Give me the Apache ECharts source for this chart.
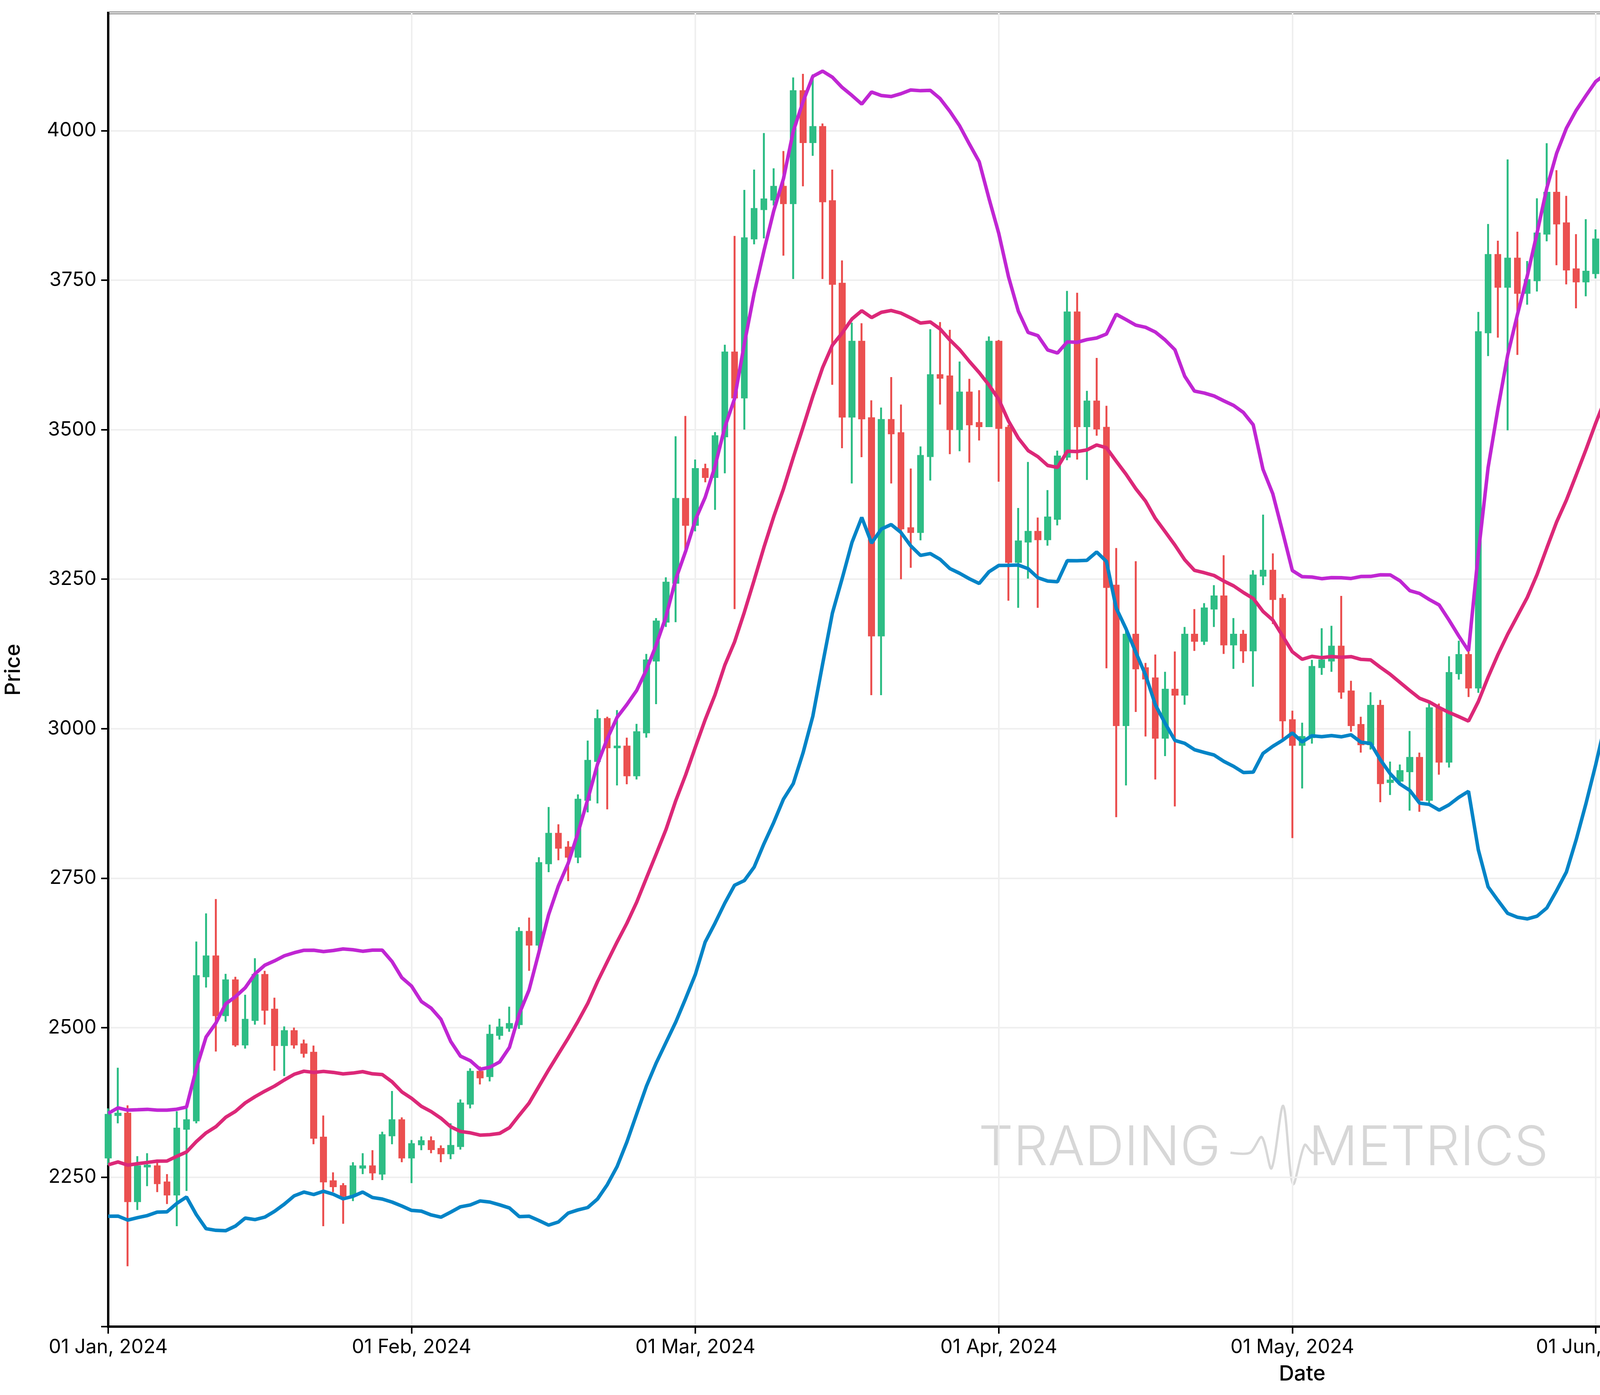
<!DOCTYPE html>
<html>
<head>
<meta charset="utf-8">
<script src="https://cdn.jsdelivr.net/npm/echarts@6/dist/echarts.min.js"></script>
<style>
  html, body { margin: 0; padding: 0; background: #fff; }
  #main { width: 6569px; height: 3570px; }
</style>
</head>
<body>
<div id="main"></div>
<script>
// daily candles [open, close, low, high], Jan 1 2024 .. Sep 1 2024
var jan = [
  [2283,2354,2270,2365],[2354,2356,2340,2433],[2356,2210,2101,2370],[2210,2268,2195,2285],
  [2268,2269,2235,2290],[2268,2240,2225,2275],[2241,2221,2205,2255],[2221,2331,2168,2360],
  [2331,2345,2227,2370],[2345,2586,2340,2644],[2586,2619,2567,2691],[2619,2521,2460,2715],
  [2521,2579,2510,2590],[2579,2472,2468,2585],[2472,2513,2465,2555],[2513,2588,2505,2616],
  [2588,2530,2505,2595],[2530,2471,2428,2550],[2471,2494,2419,2502],[2494,2472,2465,2500],
  [2472,2458,2450,2480],[2458,2316,2305,2470],[2316,2243,2168,2353],[2243,2235,2225,2258],
  [2235,2219,2172,2240],[2219,2268,2210,2275],[2266,2268,2255,2290],[2268,2258,2245,2295],
  [2256,2320,2245,2326],[2320,2345,2305,2394],[2345,2283,2275,2350]
];
var feb = [
  [2283,2305,2240,2312],[2305,2310,2295,2318],[2310,2297,2290,2318],[2297,2290,2275,2303],
  [2290,2302,2280,2340],[2302,2373,2296,2380],[2373,2426,2365,2432],[2426,2417,2405,2435],
  [2419,2488,2410,2505],[2488,2500,2480,2515],[2500,2506,2493,2535],[2506,2660,2498,2668],
  [2660,2639,2595,2684],[2639,2775,2625,2785],[2775,2824,2760,2869],[2824,2801,2780,2840],
  [2801,2786,2745,2812],[2786,2881,2775,2890],[2881,2946,2860,2980],[2946,3016,2875,3032],
  [3016,2969,2865,3020],[2969,2970,2905,3031],[2970,2922,2907,2985],[2922,2994,2915,3008],
  [2994,3114,2985,3125],[3114,3179,3041,3185],[3179,3244,3170,3253],[3244,3384,3178,3489],
  [3384,3341,3300,3523]
];
var mar = [
  [3341,3434,3330,3450],[3434,3421,3412,3443],[3421,3489,3366,3496],[3489,3629,3427,3642],
  [3629,3554,3200,3824],[3554,3820,3500,3901],[3820,3869,3810,3935],[3869,3885,3820,3996],
  [3885,3906,3875,3937],[3906,3879,3791,3966],[3879,4066,3752,4089],[4066,3981,3907,4095],
  [3981,4006,3958,4094],[4006,3882,3752,4012],[3882,3744,3575,3935],[3744,3522,3469,3783],
  [3522,3647,3410,3679],[3647,3519,3454,3678],[3519,3156,3056,3549],[3156,3516,3056,3537],
  [3516,3494,3410,3588],[3494,3335,3250,3542],[3335,3329,3269,3435],[3329,3456,3315,3472],
  [3456,3591,3415,3668],[3591,3587,3542,3680],[3589,3501,3459,3667],[3501,3562,3464,3614],
  [3562,3509,3445,3585],[3511,3506,3482,3566],[3506,3647,3506,3656]
];
var apr = [
  [3647,3503,3413,3650],[3503,3279,3214,3508],[3279,3313,3202,3369],[3313,3329,3251,3446],
  [3329,3317,3202,3353],[3317,3353,3306,3399],[3351,3455,3340,3465],[3455,3696,3449,3732],
  [3696,3506,3450,3729],[3506,3547,3416,3565],[3547,3502,3490,3620],[3503,3237,3101,3540],
  [3239,3006,2852,3302],[3006,3157,2905,3165],[3157,3101,3028,3280],[3101,3084,2987,3110],
  [3084,2985,2915,3124],[2985,3065,2954,3095],[3065,3057,2870,3129],[3057,3157,3040,3170],
  [3157,3147,3130,3200],[3147,3201,3140,3210],[3201,3221,3170,3240],[3221,3141,3125,3290],
  [3141,3157,3100,3185],[3157,3131,3110,3165],[3131,3256,3070,3265],[3256,3264,3240,3358],
  [3264,3217,3175,3293],[3217,3014,2980,3225]
];
var may = [
  [3014,2973,2817,3030],[2973,2986,2900,3010],[2986,3103,2975,3115],[3103,3114,3090,3168],
  [3114,3137,3095,3172],[3137,3062,3050,3222],[3062,3006,2995,3080],[3006,2974,2960,3020],
  [2974,3038,2965,3061],[3038,2909,2877,3048],[2911,2913,2889,2945],[2913,2929,2905,2940],
  [2929,2951,2863,2996],[2951,2881,2861,2960],[2881,3034,2875,3045],[3034,2945,2923,3042],
  [2945,3093,2935,3121],[3093,3123,3082,3147],[3123,3069,3053,3130],[3069,3663,3060,3697],
  [3663,3792,3623,3844],[3792,3739,3654,3816],[3739,3786,3499,3952],[3786,3729,3625,3831],
  [3729,3750,3709,3782],[3750,3828,3731,3887],[3828,3896,3815,3979],[3896,3845,3775,3934],
  [3845,3768,3743,3891],[3768,3748,3703,3827],[3748,3764,3723,3852]
];
var jun = [
  [3762,3818,3753,3835],[3818,3781,3753,3840],[3783,3768,3758,3852],[3768,3812,3731,3834],
  [3812,3869,3776,3889],[3869,3814,3761,3879],[3816,3678,3600,3842],[3678,3681,3670,3711],
  [3681,3707,3667,3722],[3708,3667,3643,3715],[3669,3497,3431,3675],[3497,3562,3461,3661],
  [3562,3469,3428,3570],[3469,3483,3362,3490],[3481,3571,3470,3596],[3571,3626,3560,3655],
  [3626,3510,3463,3642],[3510,3482,3353,3515],[3482,3561,3467,3588],[3561,3512,3485,3624],
  [3512,3517,3446,3542],[3519,3493,3480,3525],[3495,3420,3410,3522],[3420,3352,3240,3436],
  [3352,3395,3336,3431],[3395,3371,3322,3425],[3371,3450,3360,3477],[3450,3380,3364,3488],
  [3382,3377,3370,3409],[3377,3439,3368,3459]
];
var jul = [
  [3439,3441,3423,3525],[3441,3420,3400,3468],[3420,3293,3250,3432],[3293,3057,3050,3313],
  [3059,2982,2808,3111],[2982,3068,2954,3075],[3068,2930,2920,3080],[2930,3020,2823,3098],
  [3020,3067,3010,3114],[3067,3102,3022,3150],[3102,3100,3056,3216],[3100,3133,3044,3145],
  [3133,3176,3111,3185],[3176,3245,3163,3268],[3245,3483,3226,3495],[3483,3444,3380,3500],
  [3444,3385,3375,3516],[3385,3427,3365,3490],[3427,3503,3376,3539],[3503,3517,3490,3539],
  [3517,3536,3411,3545],[3536,3439,3420,3563],[3439,3482,3387,3541],[3482,3336,3299,3500],
  [3336,3174,3087,3350],[3174,3274,3170,3285],[3274,3247,3190,3327],[3247,3268,3198,3275],
  [3268,3317,3256,3399],[3319,3278,3233,3368],[3281,3232,3213,3352]
];
var aug = [
  [3234,3202,3079,3246],[3205,2988,2966,3218],[2990,2904,2770,3020],[2906,2689,2629,2938],
  [2690,2419,2110,2698],[2419,2463,2410,2558],[2463,2342,2308,2553],[2342,2684,2320,2726],
  [2684,2598,2552,2710],[2598,2611,2572,2645],[2611,2555,2540,2720],[2555,2724,2510,2750],
  [2724,2702,2608,2740],[2703,2661,2630,2781],[2663,2569,2515,2677],[2569,2594,2549,2630],
  [2592,2616,2587,2630],[2616,2611,2594,2690],[2611,2638,2569,2651],[2638,2572,2553,2698],
  [2572,2632,2530,2668],[2632,2623,2590,2650],[2623,2763,2620,2801],[2763,2770,2730,2822],
  [2770,2746,2732,2794],[2746,2680,2666,2764],[2682,2457,2392,2703],[2457,2530,2410,2557],
  [2530,2528,2506,2597],[2529,2526,2435,2553],[2527,2512,2498,2536]
];
var sep = [[2514,2426,2398,2525]];

// closes Dec 13..31 2023, used to seed the 20-day bands
var priorCloses = [2260,2315,2220,2228,2195,2218,2175,2200,2240,2325,2315,2265,2273,2230,2380,2345,2300,2290,2283];

var monthNames = ['Jan','Feb','Mar','Apr','May','Jun','Jul','Aug','Sep','Oct','Nov','Dec'];
var candles = [].concat(jan, feb, mar, apr, may, jun, jul, aug, sep);

var dates = [];
var start = new Date(Date.UTC(2024, 0, 1));
for (var i = 0; i < candles.length; i++) {
  var d = new Date(start.getTime() + i * 86400000);
  dates.push(d.getUTCFullYear() + '-' + String(d.getUTCMonth() + 1).padStart(2, '0') + '-' + String(d.getUTCDate()).padStart(2, '0'));
}

// Bollinger bands: 20-day SMA, 1.5 sample std
var closes = priorCloses.concat(candles.map(function (c) { return c[1]; }));
var mid = [], upper = [], lower = [];
for (var k = priorCloses.length; k < closes.length; k++) {
  var win = closes.slice(k - 19, k + 1);
  var m = win.reduce(function (a, b) { return a + b; }, 0) / win.length;
  var v = win.reduce(function (a, b) { return a + (b - m) * (b - m); }, 0) / (win.length - 1);
  var s = Math.sqrt(v);
  mid.push(+m.toFixed(2)); upper.push(+(m + 1.5 * s).toFixed(2)); lower.push(+(m - 1.5 * s).toFixed(2));
}

var isMonthStart = function (idx, val) { return val.slice(8) === '01'; };
var font = 'Inter, "Liberation Sans", sans-serif';

var myChart = echarts.init(document.getElementById('main'), null, { renderer: 'canvas' });

var option = {
  animation: false,
  backgroundColor: '#ffffff',
  grid: { left: 264, right: 179, top: 33, bottom: 175, show: true, borderColor: '#000', borderWidth: 6 },
  legend: {
    right: 205, top: 52, orient: 'vertical',
    data: ['Middle Band', 'Upper Band', 'Lower Band'],
    icon: 'rect', itemWidth: 92, itemHeight: 9, itemGap: 22,
    padding: [20, 20, 20, 15],
    borderColor: '#454a55', borderWidth: 4, borderRadius: 10, backgroundColor: '#fff',
    textStyle: { fontSize: 40, fontFamily: font, color: '#000', padding: [0, 0, 0, 20] }
  },
  xAxis: {
    type: 'category', data: dates, boundaryGap: false,
    name: 'Date', nameLocation: 'middle', nameGap: 95,
    nameTextStyle: { fontSize: 54, fontFamily: font, color: '#000', fontWeight: 500 },
    axisLine: { lineStyle: { color: '#000', width: 6 } },
    axisTick: { interval: isMonthStart, length: 18, lineStyle: { color: '#000', width: 4 } },
    splitLine: { show: true, interval: isMonthStart, lineStyle: { color: '#efefef', width: 4 } },
    axisLabel: {
      interval: isMonthStart, fontSize: 50, fontFamily: font, color: '#000', margin: 28,
      formatter: function (val) { var p = val.split('-'); return p[2] + ' ' + monthNames[+p[1] - 1] + ', ' + p[0]; }
    }
  },
  yAxis: {
    type: 'value', min: 2000, max: 4197, interval: 250, scale: true,
    name: 'Price', nameLocation: 'middle', nameGap: 215, nameRotate: 90,
    nameTextStyle: { fontSize: 54, fontFamily: font, color: '#000', fontWeight: 500 },
    axisLine: { show: true, lineStyle: { color: '#000', width: 6 } },
    axisTick: { show: true, length: 18, lineStyle: { color: '#000', width: 4 } },
    splitLine: { show: true, lineStyle: { color: '#efefef', width: 4 } },
    axisLabel: {
      fontSize: 50, fontFamily: font, color: '#000', margin: 30, showMaxLabel: false,
      formatter: function (v) { return v < 2200 ? '' : String(v); }
    }
  },
  graphic: [
    { type: 'text', left: 2505, top: 2870, style: { text: 'TRADING', font: '300 140px ' + font, fill: '#d7d7d7' }, z: 0 },
    { type: 'text', left: 3350, top: 2870, style: { text: 'METRICS', font: '300 140px ' + font, fill: '#d7d7d7' }, z: 0 },
    { type: 'polyline', z: 0, shape: { points: [[3150, 2950], [3200, 2950], [3230, 2910], [3255, 2990], [3285, 2830], [3310, 3030], [3340, 2930], [3360, 2950], [3390, 2950]], smooth: 0.3 },
      style: { stroke: '#d7d7d7', lineWidth: 6, fill: null } }
  ],
  series: [
    {
      name: 'Price', type: 'candlestick', data: candles.map(function (c) { return [c[0], c[1], c[2], c[3]]; }),
      barWidth: 13,
      itemStyle: { color: '#2ebd85', color0: '#eb5050', borderColor: '#2ebd85', borderColor0: '#eb5050', borderWidth: 5 },
      z: 2
    },
    { name: 'Middle Band', type: 'line', data: mid, showSymbol: false, lineStyle: { color: '#dc2878', width: 9 }, itemStyle: { color: '#dc2878' }, z: 3 },
    { name: 'Upper Band', type: 'line', data: upper, showSymbol: false, lineStyle: { color: '#c026d3', width: 9 }, itemStyle: { color: '#c026d3' }, z: 3 },
    { name: 'Lower Band', type: 'line', data: lower, showSymbol: false, lineStyle: { color: '#0284c7', width: 9 }, itemStyle: { color: '#0284c7' }, z: 3 }
  ]
};

myChart.setOption(option);
</script>
</body>
</html>
